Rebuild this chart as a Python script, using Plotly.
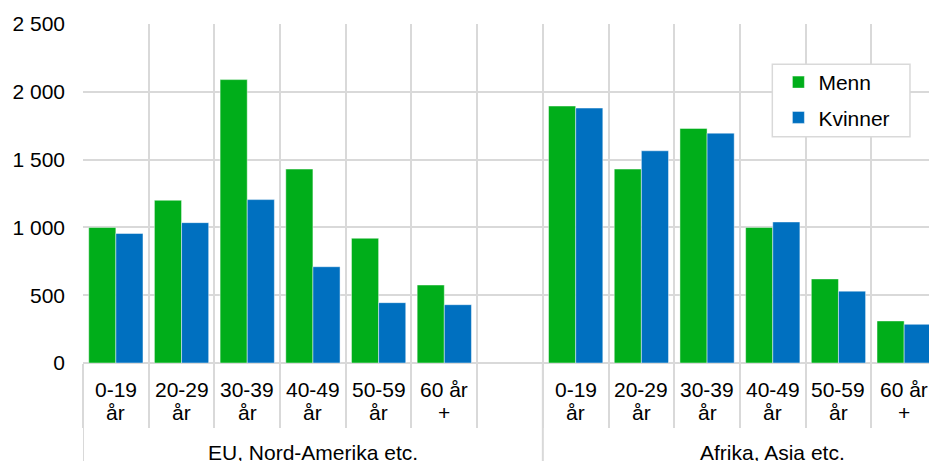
import plotly.graph_objects as go

# ---- data ----
groups = ["EU, Nord-Amerika etc.", "Afrika, Asia etc."]
age_line1 = ["0-19", "20-29", "30-39", "40-49", "50-59", "60 år"]
age_line2 = ["år", "år", "år", "år", "år", "+"]

menn_eu = [1000, 1200, 2090, 1430, 920, 575]
kvinner_eu = [955, 1035, 1205, 710, 445, 430]
menn_af = [1895, 1430, 1730, 1000, 620, 310]
kvinner_af = [1880, 1565, 1695, 1040, 530, 285]

series_names = ["Menn", "Kvinner"]
colors = ["#00AE1A", "#0070C0"]

# EU group has an empty slot after its six age bands
n_eu = len(age_line1) + 1
n_af = len(age_line1)
x_eu = list(range(len(age_line1)))
x_af = [n_eu + i for i in range(n_af)]
x_all = x_eu + x_af

menn = menn_eu + menn_af
kvinner = kvinner_eu + kvinner_af

FONT = "Arial, Liberation Sans, sans-serif"
GRID = "#D9D9D9"
FS = 21

fig = go.Figure()
for name, vals, col in zip(series_names, [menn, kvinner], colors):
    fig.add_trace(go.Bar(
        x=x_all, y=vals, name=name, legendgroup=name,
        marker=dict(color=col, line=dict(width=1, color="rgba(255,255,255,0.45)")),
    ))

n_total = n_eu + n_af
boundaries = [i - 0.5 for i in range(n_total + 1)]

annotations = []
for xs in (x_eu, x_af):
    for idx, xi in enumerate(xs):
        annotations.append(dict(x=xi, y=0, xref="x", yref="paper", text=age_line1[idx],
                                showarrow=False, yanchor="middle", yshift=-26,
                                font=dict(size=FS, color="#000", family=FONT)))
        annotations.append(dict(x=xi, y=0, xref="x", yref="paper", text=age_line2[idx],
                                showarrow=False, yanchor="middle", yshift=-49.5,
                                font=dict(size=FS, color="#000", family=FONT)))
# group labels
group_centers = [(n_eu - 1) / 2, n_eu + (n_af - 1) / 2 + 0.5]
for g, c in zip(groups, group_centers):
    annotations.append(dict(x=c, y=0, xref="x", yref="paper", text=g,
                            showarrow=False, yanchor="middle", yshift=-89,
                            font=dict(size=FS, color="#000", family=FONT)))

shapes = []
# group dividers extending through label area
for b in [-0.5, n_eu - 0.5]:
    shapes.append(dict(type="line", xref="x", yref="paper", x0=b, x1=b, y0=0, y1=-0.4,
                       line=dict(color=GRID, width=2), layer="below"))
# legend box
shapes.append(dict(type="rect", xref="paper", yref="paper",
                   x0=0.8148, x1=0.9775, y0=0.6673, y1=0.881,
                   fillcolor="white", line=dict(color=GRID, width=1.5), layer="above"))

fig.update_layout(
    width=929, height=461,
    margin=dict(l=83, r=0, t=24, b=98),
    paper_bgcolor="white", plot_bgcolor="white",
    font=dict(family=FONT, size=FS, color="#000"),
    separators=", ",
    barmode="group", bargap=0.174, bargroupgap=0,
    showlegend=True,
    legend=dict(x=0.822, y=0.888, xanchor="left", yanchor="top",
                bgcolor="rgba(0,0,0,0)", borderwidth=0,
                traceorder="grouped", tracegroupgap=5,
                font=dict(size=FS, color="#000", family=FONT)),
    annotations=annotations,
    shapes=shapes,
    xaxis=dict(range=[-0.5, n_total - 0.5 - 8 / 65.75], showgrid=False, zeroline=False,
               showticklabels=False, ticks="", showline=False,
               minor=dict(tickmode="array", tickvals=boundaries, showgrid=True,
                          gridcolor=GRID, gridwidth=2, ticks="outside", ticklen=64,
                          tickwidth=2, tickcolor=GRID)),
    yaxis=dict(range=[0, 2500], dtick=500, tickformat=",d", showgrid=True,
               gridcolor=GRID, gridwidth=2, zeroline=True, zerolinecolor=GRID,
               zerolinewidth=2, ticks="", ticklabelstandoff=17, showline=False,
               tickfont=dict(size=FS, color="#000", family=FONT)),
)

# remove the default page margin so the 929x461 figure fills the window exactly
fig.write_html("out.html",
               config={"displayModeBar": False},
               post_script="document.body.style.margin='0';document.body.style.overflow='hidden';")
